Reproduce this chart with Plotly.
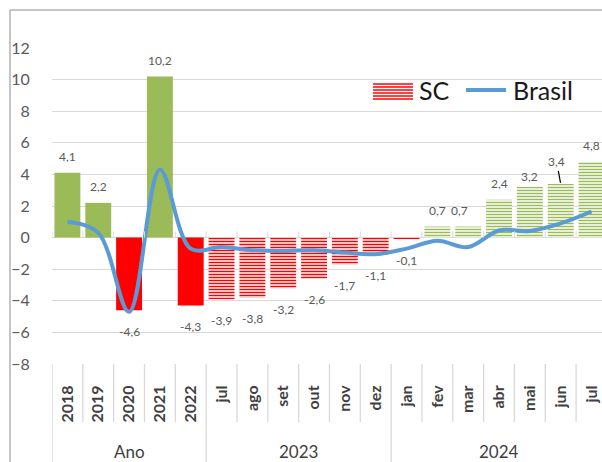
import plotly.graph_objects as go

# ---------------- data ----------------
categories = ["2018", "2019", "2020", "2021", "2022",
              "jul", "ago", "set", "out", "nov", "dez",
              "jan", "fev", "mar", "abr", "mai", "jun", "jul"]
groups = ["Ano", "2023", "2024"]
group_sizes = [5, 6, 7]
sc_values = [4.1, 2.2, -4.6, 10.2, -4.3,
             -3.9, -3.8, -3.2, -2.6, -1.7, -1.1,
             -0.1, 0.7, 0.7, 2.4, 3.2, 3.4, 4.8]
brasil_values = [1.0, 0.3, -4.7, 4.3, -0.7,
                 -0.6, -0.8, -0.85, -0.8, -0.95, -1.05,
                 -0.7, -0.2, -0.6, 0.45, 0.42, 0.9, 1.65]
y_ticks = [-8, -6, -4, -2, 0, 2, 4, 6, 8, 10, 12]

# ---------------- styling ----------------
W, H = 602, 462
L, R, T, B = 52, 602, 48, 364  # plot area in pixels
FONT = "Lato"
GREEN = "#9BBB59"
RED = "#FF0000"
BLUE = "#5B9BD5"
GRID = "#D9D9D9"


def px(x):
    return (x - L) / (R - L)


def py(y):
    return (B - y) / (B - T)


n = len(categories)
xs = list(range(n))
n_annual = group_sizes[0]

x_annual, y_annual, c_annual = [], [], []
x_month, y_month, c_month = [], [], []
for i, v in enumerate(sc_values):
    base = GREEN if v >= 0 else RED
    if i < n_annual:
        x_annual.append(xs[i]); y_annual.append(v); c_annual.append(base)
    else:
        x_month.append(xs[i]); y_month.append(v); c_month.append(base)

fig = go.Figure()
fig.add_trace(go.Bar(
    x=x_annual, y=y_annual, name="SC", showlegend=False, width=0.84,
    marker=dict(color=c_annual, line=dict(width=0)), hoverinfo="skip",
))
fig.add_trace(go.Bar(
    x=x_month, y=y_month, name="SC", showlegend=False, width=0.84,
    marker=dict(color="white", line=dict(width=0),
                pattern=dict(shape="-", fgcolor=c_month, bgcolor="white",
                             size=3, solidity=0.5)),
    hoverinfo="skip",
))
fig.add_trace(go.Scatter(
    x=xs, y=brasil_values, name="Brasil", mode="lines", showlegend=False,
    line=dict(color=BLUE, width=4, shape="spline", smoothing=1.0),
))

# data labels
adjust = {13: dict(xshift=-9), 15: dict(yshift=11)}
annotations = []
for i, v in enumerate(sc_values):
    txt = f"{v:.1f}".replace(".", ",")
    if i == 16:
        annotations.append(dict(x=i, y=v, text=txt, showarrow=True, arrowhead=0,
                                arrowwidth=1.2, arrowcolor="#000000", ax=-4, ay=-22,
                                standoff=1, font=dict(family=FONT, size=12, color="#595959")))
        continue
    a = dict(x=i, y=v, text=txt, showarrow=False,
             yshift=16 if v >= 0 else -21,
             font=dict(family=FONT, size=12, color="#595959"))
    a.update(adjust.get(i, {}))
    annotations.append(a)

# group labels
start = 0
for g, s in zip(groups, group_sizes):
    center = start + (s - 1) / 2
    annotations.append(dict(x=center, y=py(451), xref="x", yref="paper", text=g,
                            xanchor="center", yanchor="middle", borderpad=0,
                            showarrow=False, font=dict(family=FONT, size=17, color="#404040")))
    start += s

# legend (manual)
annotations.append(dict(x=px(417), y=py(90), xref="paper", yref="paper", text="SC",
                        xanchor="left", yanchor="middle", showarrow=False,
                        font=dict(family=FONT, size=25, color="#1a1a1a")))
annotations.append(dict(x=px(511), y=py(90), xref="paper", yref="paper", text="Brasil",
                        xanchor="left", yanchor="middle", showarrow=False,
                        font=dict(family=FONT, size=25, color="#1a1a1a")))

shapes = []
# chart border
shapes.append(dict(type="rect", xref="paper", yref="paper", x0=px(10), x1=px(700),
                   y0=py(10), y1=py(700), line=dict(color="#8C8C8C", width=1), layer="below"))
# legend swatch
shapes.append(dict(type="rect", xref="paper", yref="paper", x0=px(373), x1=px(413),
                   y0=py(99), y1=py(83), fillcolor="white", line=dict(width=0)))
for yy in range(84, 100, 3):
    shapes.append(dict(type="line", xref="paper", yref="paper", x0=px(373), x1=px(413),
                       y0=py(yy), y1=py(yy), line=dict(color=RED, width=1.5)))
shapes.append(dict(type="line", xref="paper", yref="paper", x0=px(466), x1=px(506),
                   y0=py(90), y1=py(90), line=dict(color=BLUE, width=4)))

# tick marks on zero axis and dividers under plot
bounds = [i - 0.5 for i in range(n + 1)]
group_bounds = [-0.5, group_sizes[0] - 0.5, group_sizes[0] + group_sizes[1] - 0.5]
for b in bounds:
    if b > 17.3:
        continue
    shapes.append(dict(type="line", xref="x", yref="y", x0=b, x1=b, y0=0, y1=0.4,
                       line=dict(color=GRID, width=1)))
    y_end = py(462) if b in group_bounds else py(422)
    shapes.append(dict(type="line", xref="x", yref="paper", x0=b, x1=b, y0=0, y1=y_end,
                       line=dict(color=GRID, width=1.3)))

fig.update_layout(
    template="none",
    width=W, height=H,
    margin=dict(l=L, r=W - R, t=T, b=H - B, pad=0),
    paper_bgcolor="white", plot_bgcolor="white",
    barmode="overlay",
    separators=",.",
    annotations=annotations,
    shapes=shapes,
    showlegend=False,
    xaxis=dict(
        automargin=False,
        range=[-0.5, 17.34], tickmode="array", tickvals=xs, ticktext=categories,
        tickangle=-90, showgrid=False, zeroline=False, showline=False,
        ticks="outside", ticklen=14, tickcolor="rgba(0,0,0,0)",
        tickfont=dict(family=FONT, size=16, color="#404040", weight="bold"),
    ),
    yaxis=dict(
        automargin=False,
        range=[-8, 12], tickmode="array", tickvals=y_ticks,
        showgrid=True, gridcolor=GRID, gridwidth=1.3,
        zeroline=True, zerolinecolor=GRID, zerolinewidth=1.3,
        showline=False, ticks="outside", ticklen=18, tickcolor="rgba(0,0,0,0)",
        tickfont=dict(family=FONT, size=16, color="#595959"),
    ),
)

fig.write_html("out.html", config={"displayModeBar": False},
               post_script="document.body.style.margin='0';")
